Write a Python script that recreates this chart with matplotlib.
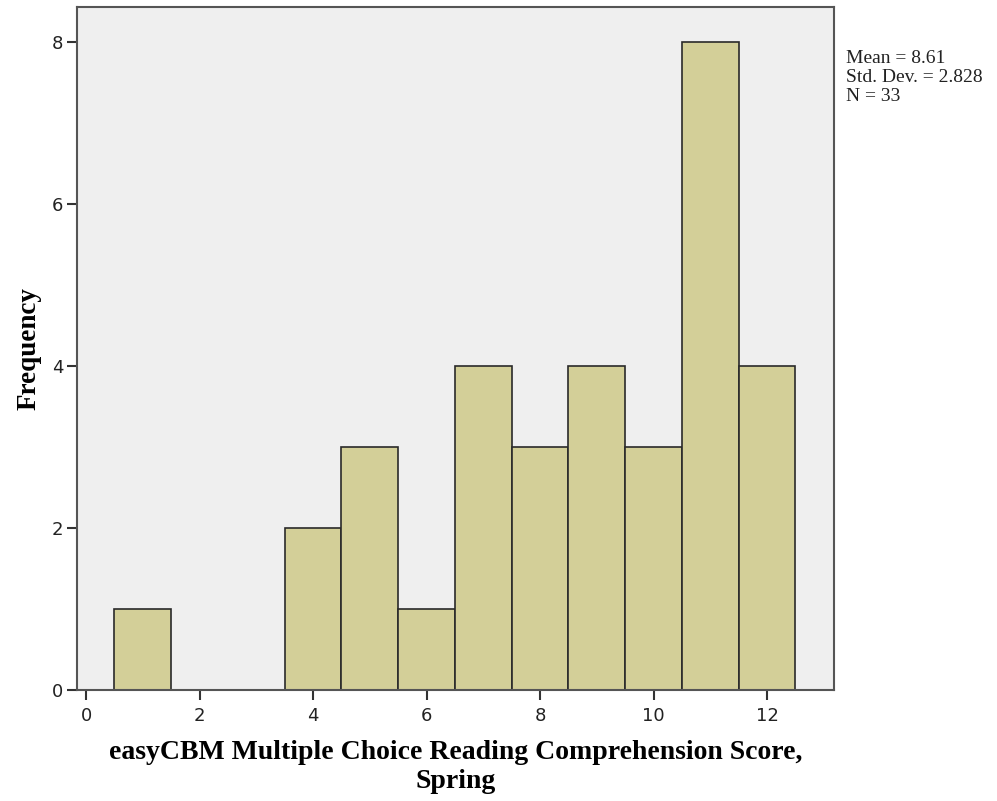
import matplotlib
matplotlib.use("Agg")
import matplotlib.pyplot as plt

bin_centers = [1, 2, 3, 4, 5, 6, 7, 8, 9, 10, 11, 12]
frequencies = [1, 0, 0, 2, 3, 1, 4, 3, 4, 3, 8, 4]
x_ticks = [0, 2, 4, 6, 8, 10, 12]
y_ticks = [0, 2, 4, 6, 8]
stats_text = "Mean = 8.61\nStd. Dev. = 2.828\nN = 33"
x_label = "easyCBM Multiple Choice Reading Comprehension Score,\nSpring"
y_label = "Frequency"

fig = plt.figure(figsize=(9.97, 8.01), dpi=100)
ax = fig.add_axes([0.0772, 0.1386, 0.7593, 0.8527])
ax.set_facecolor("#EFEFEF")

ax.bar(bin_centers, frequencies, width=1.0, color="#D3CF98",
       edgecolor="#2a2a2a", linewidth=1.2, zorder=2)

ax.set_xlim(-0.16, 13.18)
ax.set_ylim(0, 8.43)
ax.set_xticks(x_ticks)
ax.set_yticks(y_ticks)
ax.tick_params(axis="both", direction="out", length=7, width=1.5,
               labelsize=13, color="#333333", labelcolor="#222222")
ax.tick_params(axis="x", pad=5)
ax.tick_params(axis="y", pad=3)
for s in ax.spines.values():
    s.set_color("#555555")
    s.set_linewidth(1.5)

ax.set_xlabel(x_label, family="Liberation Serif", fontweight="bold",
              fontsize=20, labelpad=11, linespacing=1.2)
ax.set_ylabel(y_label, family="Liberation Serif", fontweight="bold",
              fontsize=19.5, labelpad=7)

fig.text(0.849, 0.938, stats_text, family="Liberation Serif", fontsize=14,
         va="top", ha="left", linespacing=1.15, color="#222222")

fig.savefig("out.png", dpi=100)
